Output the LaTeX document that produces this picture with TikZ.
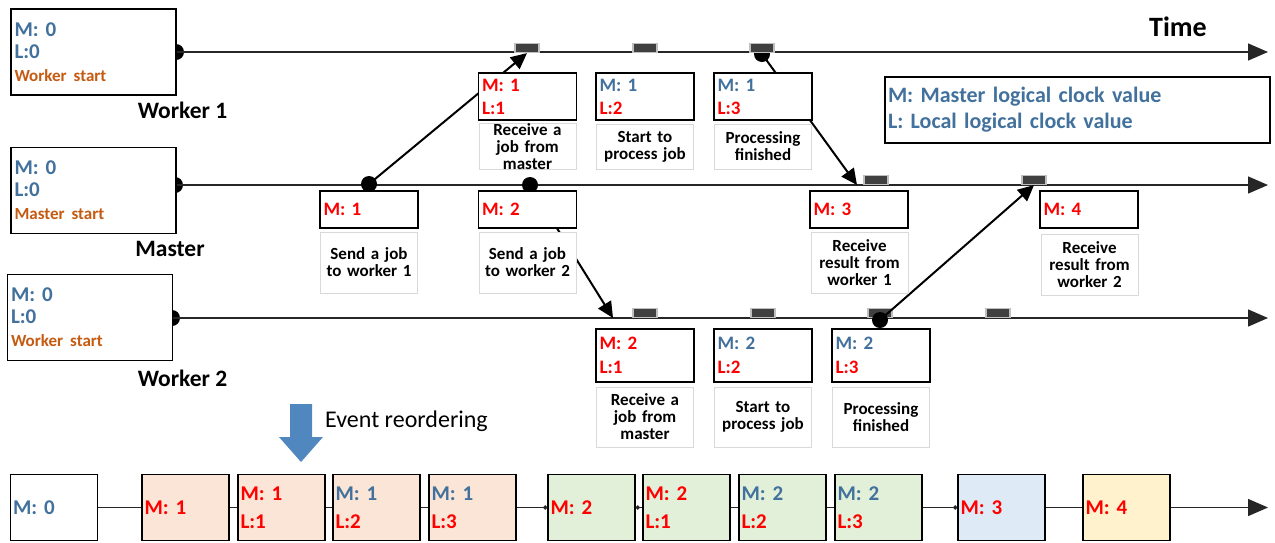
\documentclass[tikz,border=0pt]{standalone}
\usepackage{fontspec}
\setmainfont{Carlito}
\usetikzlibrary{arrows.meta}
\definecolor{mblue}{HTML}{41719C}
\definecolor{morange}{HTML}{C55A11}
\definecolor{mred}{HTML}{FF0000}
\definecolor{tickfill}{HTML}{404040}
\definecolor{tickdraw}{HTML}{BFBFBF}
\definecolor{lblgray}{HTML}{D9D9D9}
\definecolor{peach}{HTML}{FBE5D6}
\definecolor{lgreen}{HTML}{E2F0D9}
\definecolor{lblue}{HTML}{DEEBF7}
\definecolor{lyellow}{HTML}{FFF2CC}
\definecolor{arrowblue}{HTML}{5087BF}
\newcommand{\fsz}[2]{\fontsize{#1}{#2}\selectfont}
\newcommand{\rd}[1]{\textcolor{mred}{#1}}
\newcommand{\bl}[1]{\textcolor{mblue}{#1}}
\newcommand{\startlbl}[1]{\bl{M: 0}\\\bl{L:0}\\[1pt]\textcolor{morange}{\fsz{17}{22}#1}}
\begin{document}
\begin{tikzpicture}[x=1pt,y=-1pt,
  startbox/.style={draw=black, line width=1.5pt, fill=white, minimum width=165pt, minimum height=86pt, text width=158pt, align=left, inner sep=0pt, font=\bfseries\fsz{21}{22}},
  evbox/.style={draw=black, line width=1.5pt, fill=white, minimum width=98pt, text width=91pt, align=left, inner sep=0pt, font=\bfseries\fsz{19}{23}},
  lblbox/.style={draw=lblgray, line width=1pt, fill=white, minimum width=97pt, text width=96pt, align=center, inner sep=0pt, font=\bfseries\fsz{17}{17}},
  tickbox/.style={draw=tickdraw, line width=1.2pt, fill=tickfill, minimum width=24pt, minimum height=9pt, inner sep=0pt},
  dotnode/.style={circle, fill=black, minimum size=16pt, inner sep=0pt},
  timeline/.style={line width=1.5pt, draw=black!85, -{Triangle[length=20pt,width=17pt]}},
  msg/.style={line width=2pt, -{Triangle[length=16pt,width=15pt]}},
  rowbox/.style={draw=black, line width=1.5pt, minimum width=87pt, minimum height=66pt, text width=82pt, align=left, inner sep=0pt, font=\bfseries\fsz{21}{28}},
  rowline/.style={line width=1.5pt, draw=black!85},
  lanelabel/.style={font=\bfseries\fsz{23.5}{25}}
]
\useasboundingbox (0,0) rectangle (1275,542);

% timelines
\node[dotnode] (s1) at (176,52) {};
\node[dotnode] (s2) at (175,185) {};
\node[dotnode] (s3) at (172,318) {};
\coordinate (e1) at (1268,52);
\coordinate (e2) at (1268,185);
\coordinate (e3) at (1268,318);
\draw[timeline] (s1.center) -- (e1);
\draw[timeline] (s2.center) -- (e2);
\draw[timeline] (s3.center) -- (e3);

% start boxes
\node[startbox] (w1) at (93.5,52) {\startlbl{Worker start}};
\node[startbox] (m0) at (93.5,190.5) {\startlbl{Master start}};
\node[startbox] (w2) at (90,317.5) {\startlbl{Worker start}};
\node[lanelabel] (lw1) at (182.5,110) {Worker 1};
\node[lanelabel] (lm) at (170,249) {Master};
\node[lanelabel] (lw2) at (182.5,378) {Worker 2};
\node[font=\bfseries\fsz{28}{30}] (time) at (1178,27) {Time};

% message dots and targets
\node[dotnode] (dm1) at (369,184) {};
\node[dotnode] (dm2) at (530,185) {};
\node[dotnode] (dw1) at (762,54) {};
\coordinate (a2) at (857,185);
\coordinate (a3) at (613,318);

% ticks
\node[tickbox] (t11) at (527,48) {};
\node[tickbox] (t12) at (645,48) {};
\node[tickbox] (t13) at (762,48) {};
\node[tickbox] (t21) at (876,180) {};
\node[tickbox] (t22) at (1034,180) {};
\node[tickbox] (t31) at (645,313) {};
\node[tickbox] (t32) at (763,313) {};
\node[tickbox] (t33) at (880,313) {};
\node[tickbox] (t34) at (998,313) {};
\node[dotnode] (dw2) at (880,320) {};

% messages
\draw[msg] (dm1.center) -- (t11.south);
\draw[msg] (dw1.center) -- (a2);
\draw[msg] (dm2.center) -- (a3);
\draw[msg] (dw2.center) -- (t22.south);

% worker 1 events
\node[evbox, minimum height=47pt] (e11) at (527.5,96.5) {\rd{M: 1}\\\rd{L:1}};
\node[lblbox, minimum height=45pt] (l11) at (527.5,146.5) {Receive a\\job from\\master};
\node[evbox, minimum height=47pt] (e12) at (645,96.5) {\bl{M: 1}\\\rd{L:2}};
\node[lblbox, minimum height=45pt] (l12) at (645,146.5) {Start to\\process job};
\node[evbox, minimum height=47pt] (e13) at (763,96.5) {\bl{M: 1}\\\rd{L:3}};
\node[lblbox, minimum height=45pt] (l13) at (763,146.5) {Processing\\finished};

% master events
\node[evbox, minimum height=37pt] (e21) at (369,209.5) {\rd{M: 1}};
\node[lblbox, minimum height=61pt] (l21) at (369,262.5) {Send a job\\to worker 1};
\node[evbox, minimum height=37pt] (e22) at (527.5,209.5) {\rd{M: 2}};
\node[lblbox, minimum height=61pt] (l22) at (527.5,262.5) {Send a job\\to worker 2};
\node[evbox, minimum height=37pt] (e23) at (859,209.5) {\rd{M: 3}};
\node[lblbox, minimum height=61pt] (l23) at (859.5,262.5) {Receive\\result from\\worker 1};
\node[evbox, minimum height=37pt] (e24) at (1089,209.5) {\rd{M: 4}};
\node[lblbox, minimum height=61pt] (l24) at (1089.5,264.5) {Receive\\result from\\worker 2};

% worker 2 events
\node[evbox, minimum height=53pt, font=\bfseries\fsz{19}{24}] (e31) at (645,355.5) {\rd{M: 2}\\\rd{L:1}};
\node[lblbox, minimum height=60pt] (l31) at (645,417) {Receive a\\job from\\master};
\node[evbox, minimum height=53pt, font=\bfseries\fsz{19}{24}] (e32) at (763,355.5) {\bl{M: 2}\\\rd{L:2}};
\node[lblbox, minimum height=60pt] (l32) at (763,417) {Start to\\process job};
\node[evbox, minimum height=53pt, font=\bfseries\fsz{19}{24}] (e33) at (881,355.5) {\bl{M: 2}\\\rd{L:3}};
\node[lblbox, minimum height=60pt] (l33) at (881,417) {Processing\\finished};

% legend
\node[draw=black, line width=1.5pt, minimum width=385pt, minimum height=66pt, text width=379pt, align=left, inner sep=0pt, font=\bfseries\fsz{22}{26}, text=mblue] (legend) at (1077.5,110) {M: Master logical clock value\\L: Local logical clock value};

% event reordering arrow
\fill[arrowblue] (290,404) -- (312,404) -- (312,437) -- (323,437) -- (301,462) -- (279,437) -- (290,437) -- cycle;
\node[font=\fsz{24}{26}, anchor=west, inner xsep=0pt] (reord) at (325,421) {Event reordering};

% bottom row
\node[rowbox, fill=white] (b0) at (54,507.5) {\bl{M: 0}};
\node[rowbox, fill=peach] (b1) at (185.5,507.5) {\rd{M: 1}};
\node[rowbox, fill=peach] (b2) at (281.5,507.5) {\rd{M: 1}\\\rd{L:1}};
\node[rowbox, fill=peach] (b3) at (376.5,507.5) {\bl{M: 1}\\\rd{L:2}};
\node[rowbox, fill=peach] (b4) at (472.5,507.5) {\bl{M: 1}\\\rd{L:3}};
\node[rowbox, fill=lgreen] (b5) at (591.5,507.5) {\rd{M: 2}};
\node[rowbox, fill=lgreen] (b6) at (686.5,507.5) {\rd{M: 2}\\\rd{L:1}};
\node[rowbox, fill=lgreen] (b7) at (782.5,507.5) {\bl{M: 2}\\\rd{L:2}};
\node[rowbox, fill=lgreen] (b8) at (878.5,507.5) {\bl{M: 2}\\\rd{L:3}};
\node[rowbox, fill=lblue] (b9) at (1001.5,507.5) {\rd{M: 3}};
\node[rowbox, fill=lyellow] (b10) at (1126.5,507.5) {\rd{M: 4}};
\coordinate (bend) at (1268,507.5);
\draw[rowline] (b0) -- (b1);
\draw[rowline] (b1) -- (b2);
\draw[rowline] (b2) -- (b3);
\draw[rowline] (b3) -- (b4);
\draw[rowline, -{Circle[length=4pt]}] (b4) -- (b5);
\draw[rowline, {Circle[length=4pt]}-] (b5) -- (b6);
\draw[rowline] (b6) -- (b7);
\draw[rowline] (b7) -- (b8);
\draw[rowline, -{Circle[length=4pt]}] (b8) -- (b9);
\draw[rowline] (b9) -- (b10);
\draw[rowline, -{Triangle[length=20pt,width=17pt]}] (b10) -- (bend);
\end{tikzpicture}
\end{document}
